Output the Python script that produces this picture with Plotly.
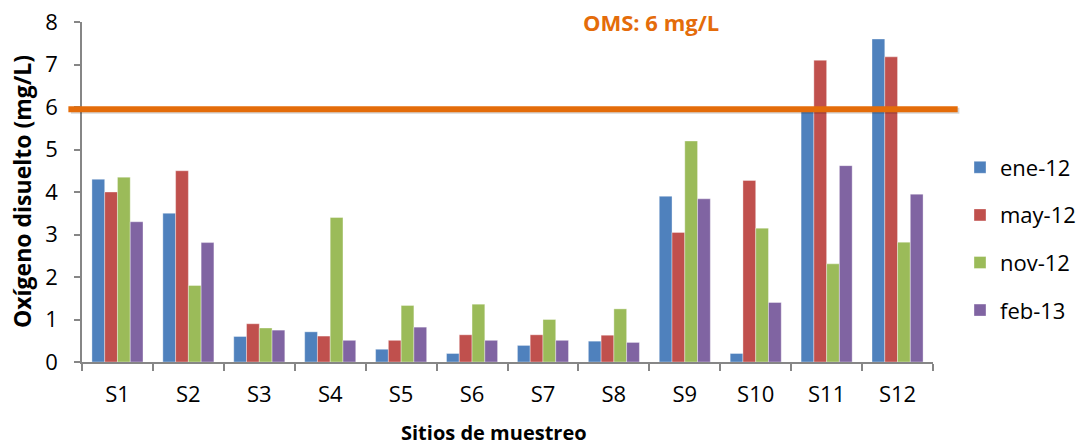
import plotly.graph_objects as go

# Dissolved oxygen per sampling site and campaign
sites = ["S1", "S2", "S3", "S4", "S5", "S6", "S7", "S8", "S9", "S10", "S11", "S12"]
ene_12 = [4.30, 3.50, 0.60, 0.71, 0.30, 0.20, 0.39, 0.49, 3.90, 0.20, 5.90, 7.60]
may_12 = [4.00, 4.50, 0.90, 0.61, 0.51, 0.64, 0.64, 0.63, 3.05, 4.27, 7.10, 7.18]
nov_12 = [4.35, 1.80, 0.80, 3.40, 1.33, 1.36, 1.00, 1.25, 5.20, 3.15, 2.31, 2.82]
feb_13 = [3.30, 2.81, 0.75, 0.51, 0.82, 0.51, 0.51, 0.46, 3.84, 1.40, 4.62, 3.95]
oms_limit = 6.0

series = [
    ("ene-12", ene_12, "#4F81BD"),
    ("may-12", may_12, "#C0504D"),
    ("nov-12", nov_12, "#9BBB59"),
    ("feb-13", feb_13, "#8064A2"),
]

FONT = "Open Sans"
W, H = 1083, 447
L, R, T, B = 82, 150, 22, 85
pw = W - L - R
ph = H - T - B

fig = go.Figure()
for name, vals, color in series:
    fig.add_trace(go.Bar(
        x=sites, y=vals, name=name,
        marker=dict(color=color, line=dict(width=0.6, color="rgba(255,255,255,0.6)")),
        legendgroup=name,
    ))

# Guideline value with a soft drop shadow
fig.add_shape(type="line", xref="paper", yref="y",
              x0=-0.013, x1=1.031, y0=oms_limit - 0.09, y1=oms_limit - 0.09,
              line=dict(color="rgba(0,0,0,0.16)", width=6), layer="above")
fig.add_shape(type="line", xref="paper", yref="y",
              x0=-0.016, x1=1.029, y0=oms_limit - 0.05, y1=oms_limit - 0.05,
              line=dict(color="#E46C0A", width=6), layer="above")

def px_x(p):
    return (p - L) / pw

def px_y(p):
    return (H - B - p) / ph

fig.add_annotation(text="<b>OMS: 6 mg/L</b>", xref="paper", yref="paper",
                   x=px_x(651), y=px_y(22), xanchor="center", yanchor="middle",
                   showarrow=False, font=dict(family=FONT, size=22, color="#E46C0A"))
fig.add_annotation(text="<b>Oxígeno disuelto (mg/L)</b>", xref="paper", yref="paper",
                   x=px_x(22), y=0.5, xanchor="center", yanchor="middle", textangle=-90,
                   showarrow=False, font=dict(family=FONT, size=23, color="#000000"))
fig.add_annotation(text="<b>Sitios de muestreo</b>", xref="paper", yref="paper",
                   x=px_x(494), y=px_y(432), xanchor="center", yanchor="middle",
                   showarrow=False, font=dict(family=FONT, size=20, color="#000000"))

fig.update_layout(
    width=W, height=H,
    margin=dict(l=L, r=R, t=T, b=B, autoexpand=False),
    paper_bgcolor="white", plot_bgcolor="white",
    barmode="group", bargap=0.28, bargroupgap=0,
    font=dict(family=FONT, size=22, color="#000000"),
    showlegend=True,
    legend=dict(xref="container", yref="container",
                x=960 / W, y=1 - 239 / H, xanchor="left", yanchor="middle",
                font=dict(family=FONT, size=22), tracegroupgap=16,
                itemwidth=30, bgcolor="rgba(0,0,0,0)"),
)
fig.update_xaxes(
    showline=True, linecolor="#868686", linewidth=1.5,
    ticks="outside", tickson="boundaries", ticklen=7, tickcolor="#868686", tickwidth=1.5,
    ticklabelstandoff=12, showgrid=False, tickfont=dict(size=22),
)
fig.update_yaxes(
    range=[0, 8], dtick=1, showline=True, linecolor="#868686", linewidth=1.5,
    ticks="outside", ticklen=6, tickcolor="#868686", tickwidth=1.5,
    ticklabelstandoff=12, showgrid=False, zeroline=False,
    tickfont=dict(size=22),
)

fig.write_html("out.html")
